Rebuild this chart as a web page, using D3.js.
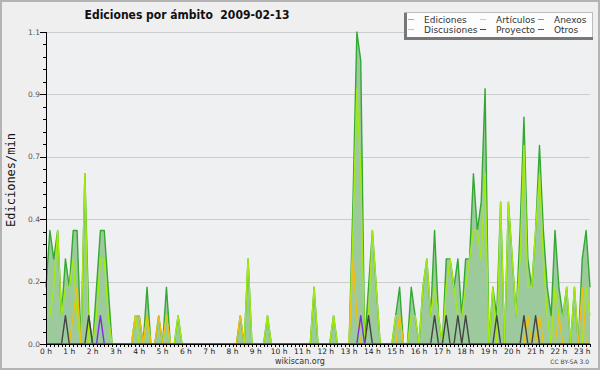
<!DOCTYPE html>
<html>
<head>
<meta charset="utf-8">
<script src="https://d3js.org/d3.v7.min.js"></script>
<style>
  body { margin: 0; background: #fff; }
  svg { display: block; }
  text { font-family: "DejaVu Sans", sans-serif; }
</style>
</head>
<body>
<svg id="chart" width="600" height="370"></svg>
<script>
// chart texts
var title = "Ediciones por ámbito  2009-02-13";
var yTitle = "Ediciones/min";
var footer = "wikiscan.org";
var licence = "CC BY-SA 3.0";

// one sample every 10 minutes, from 0 h
var binMinutes = 10;
var hourLabels = d3.range(0, 24).map(function(h){ return h + " h"; });
var yMax = 1.1;

// edits per minute (141 samples each)
var ediciones = [
  0.2,0.4,0.3,0.4,0.1,0.3,0.2,0.4,0.4,0,
  0.6,0.1,0,0.2,0.4,0.4,0.2,0,0,0,
  0,0,0,0.1,0.1,0,0.2,0,0,0.1,
  0,0.2,0,0,0.1,0,0,0,0,0,
  0,0,0,0,0,0,0,0,0,0,
  0.1,0,0.3,0,0,0,0,0.1,0,0,
  0,0,0,0,0,0,0,0,0,0.2,
  0,0,0,0,0.1,0,0,0,0,0.5,
  1.1,1.0,0,0.2,0.4,0.2,0,0,0,0,
  0.1,0.2,0,0,0.2,0.1,0,0.2,0.3,0.1,
  0.4,0.1,0,0.3,0.3,0.2,0.3,0.1,0.3,0.3,
  0.6,0.4,0.5,0.9,0,0.2,0.1,0.5,0,0.5,
  0.3,0.1,0.4,0.8,0.3,0.2,0.4,0.7,0.4,0.2,
  0.1,0.4,0.2,0.1,0.2,0,0.2,0,0.3,0.4,
  0.2
];
var articulos = [
  0.1,0.1,0.2,0.4,0.1,0.2,0.2,0.3,0.1,0,
  0.6,0,0,0.1,0.3,0.3,0.1,0,0,0,
  0,0,0,0.1,0,0,0.1,0,0,0,
  0,0.1,0,0,0.1,0,0,0,0,0,
  0,0,0,0,0,0,0,0,0,0,
  0,0,0.3,0,0,0,0,0.1,0,0,
  0,0,0,0,0,0,0,0,0,0.2,
  0,0,0,0,0.1,0,0,0,0,0.4,
  0.9,0.6,0,0.1,0.4,0.2,0,0,0,0,
  0.1,0.1,0,0,0.1,0.1,0,0.2,0.3,0.1,
  0.2,0.1,0,0.2,0.3,0.2,0.1,0.1,0.2,0.3,
  0.4,0.4,0.3,0.6,0,0.2,0,0.5,0,0.5,
  0.3,0.1,0.3,0.7,0.2,0.2,0.4,0.6,0.3,0.1,
  0,0.2,0.1,0.1,0.2,0,0.2,0,0,0.2,
  0.1
];
var anexos = d3.range(141).map(function(){ return 0; });
var discusiones = [
  0,0,0,0,0,0,0,0.1,0.2,0,
  0,0,0,0,0,0,0,0,0,0,
  0,0,0,0.1,0.1,0,0.1,0,0,0.1,
  0,0.1,0,0,0,0,0,0,0,0,
  0,0,0,0,0,0,0,0,0,0,
  0.1,0,0,0,0,0,0,0,0,0,
  0,0,0,0,0,0,0,0,0,0,
  0,0,0,0,0,0,0,0,0,0.3,
  0.1,0,0,0,0,0,0,0,0,0,
  0,0.1,0,0,0,0,0,0,0,0,
  0,0,0,0,0,0,0,0,0,0,
  0,0,0,0,0,0,0,0,0,0,
  0,0,0,0,0.1,0,0,0.1,0,0,
  0,0,0.1,0,0,0,0,0,0.2,0,
  0
];
var proyecto = [
  0,0,0,0,0,0.1,0,0,0,0,
  0,0.1,0,0,0,0,0,0,0,0,
  0,0,0,0,0,0,0,0,0,0,
  0,0,0,0,0,0,0,0,0,0,
  0,0,0,0,0,0,0,0,0,0,
  0,0,0,0,0,0,0,0,0,0,
  0,0,0,0,0,0,0,0,0,0,
  0,0,0,0,0,0,0,0,0,0,
  0,0,0,0.1,0,0,0,0,0,0,
  0,0,0,0,0,0,0,0,0,0,
  0.1,0,0,0.1,0,0,0.1,0,0.1,0,
  0,0,0,0,0,0,0.1,0,0,0,
  0,0,0,0.1,0,0,0.1,0,0,0,
  0,0,0,0,0,0,0,0,0,0,
  0
];
var otros = [
  0,0,0,0,0,0,0,0,0,0,
  0,0,0,0,0.1,0,0,0,0,0,
  0,0,0,0,0,0,0,0,0,0,
  0,0,0,0,0,0,0,0,0,0,
  0,0,0,0,0,0,0,0,0,0,
  0,0,0,0,0,0,0,0,0,0,
  0,0,0,0,0,0,0,0,0,0,
  0,0,0,0,0,0,0,0,0,0,
  0,0.1,0,0,0,0,0,0,0,0,
  0,0,0,0,0,0,0,0,0,0,
  0,0,0,0,0,0,0,0,0,0,
  0,0,0,0,0,0,0,0,0,0,
  0,0,0,0,0,0,0,0,0,0,
  0,0,0,0,0,0,0,0,0,0,
  0
];

var series = [
  {name: "Ediciones",   values: ediciones,   color: "#33a833", legend: "#7fc87f"},
  {name: "Artículos",   values: articulos,   color: "#a4ea12", legend: "#b8ee40"},
  {name: "Anexos",      values: anexos,      color: "#f07a40", legend: "#f07a40"},
  {name: "Discusiones", values: discusiones, color: "#f0c010", legend: "#f0c828"},
  {name: "Proyecto",    values: proyecto,    color: "#444444", legend: "#444444"},
  {name: "Otros",       values: otros,       color: "#7a30e0", legend: "#7a30e0"}
];

var svg = d3.select("#chart");
var W = 600, H = 370;
var plotL = 46, plotR = 590, plotT = 32, plotB = 344;

var lastHour = (ediciones.length - 1) * binMinutes / 60;
var x = d3.scaleLinear().domain([0, lastHour]).range([plotL, plotR]);
var y = d3.scaleLinear().domain([0, yMax]).range([plotB, plotT]);
var tHour = function(d, i){ return i * binMinutes / 60; };

// canvas + frame
svg.append("rect").attr("width", W).attr("height", H).attr("fill", "#efefef");
svg.append("rect").attr("x", 1).attr("y", 1).attr("width", W - 2).attr("height", H - 2)
  .attr("fill", "none").attr("stroke", "#b4b4b4").attr("stroke-width", 2);
svg.append("rect").attr("x", plotL).attr("y", plotT).attr("width", plotR - plotL).attr("height", plotB - plotT)
  .attr("fill", "#eef0f2");

// title
svg.append("text").attr("x", 187).attr("y", 18.5).attr("text-anchor", "middle")
  .style("font-family", "'DejaVu Sans Condensed', 'DejaVu Sans', sans-serif")
  .style("font-stretch", "condensed").style("white-space", "pre")
  .style("font-weight", "bold").style("font-size", "12px").attr("fill", "#111")
  .text(title);

// grid
var majors = d3.range(6).map(function(i){ return i * yMax / 5; });
var minors = d3.range(26).map(function(i){ return i * yMax / 25; });
svg.append("g").selectAll("line").data(majors.slice(1)).enter().append("line")
  .attr("x1", plotL).attr("x2", plotR)
  .attr("y1", function(d){ return Math.round(y(d)) + 0.5; })
  .attr("y2", function(d){ return Math.round(y(d)) + 0.5; })
  .attr("stroke", "#cccccc");

// data
var area = d3.area().x(function(d, i){ return x(tHour(d, i)); }).y0(y(0)).y1(function(d){ return y(d); });
var line = d3.line().x(function(d, i){ return x(tHour(d, i)); }).y(function(d){ return y(d); });

svg.append("path").datum(ediciones).attr("d", area).attr("fill", "#9cca9c");
series.forEach(function(s){
  svg.append("path").datum(s.values).attr("d", line)
    .attr("fill", "none").attr("stroke", s.color).attr("stroke-width", 1.4)
    .attr("stroke-linejoin", "round");
});

// y axis
var yAxis = svg.append("g");
yAxis.append("line").attr("x1", plotL + 0.5).attr("x2", plotL + 0.5).attr("y1", plotT).attr("y2", plotB + 3)
  .attr("stroke", "#000");
yAxis.selectAll(".mi").data(minors).enter().append("line")
  .attr("x1", plotL - 3).attr("x2", plotL)
  .attr("y1", function(d){ return Math.round(y(d)) + 0.5; })
  .attr("y2", function(d){ return Math.round(y(d)) + 0.5; })
  .attr("stroke", "#000");
yAxis.selectAll(".ma").data(majors).enter().append("line")
  .attr("x1", plotL - 6).attr("x2", plotL)
  .attr("y1", function(d){ return Math.round(y(d)) + 0.5; })
  .attr("y2", function(d){ return Math.round(y(d)) + 0.5; })
  .attr("stroke", "#000");
yAxis.selectAll("text").data(majors).enter().append("text")
  .attr("x", plotL - 6).attr("y", function(d){ return y(d) + 2.5; })
  .attr("text-anchor", "end").style("font-size", "7.5px").attr("fill", "#555")
  .text(d3.format(".1f"));

svg.append("text").attr("transform", "translate(15,180) rotate(-90)")
  .attr("text-anchor", "middle")
  .style("font-family", "'DejaVu Sans Mono', monospace").style("font-size", "12px").attr("fill", "#111")
  .text(yTitle);

// x axis
var xAxis = svg.append("g");
xAxis.append("line").attr("x1", plotL).attr("x2", plotR).attr("y1", plotB + 0.5).attr("y2", plotB + 0.5)
  .attr("stroke", "#000");
xAxis.selectAll(".tk").data(ediciones).enter().append("line")
  .attr("x1", function(d, i){ return Math.round(x(tHour(d, i))) + 0.5; })
  .attr("x2", function(d, i){ return Math.round(x(tHour(d, i))) + 0.5; })
  .attr("y1", plotB).attr("y2", plotB + 3)
  .attr("stroke", "#000");
xAxis.selectAll("text").data(hourLabels).enter().append("text")
  .attr("x", function(d, i){ return x(i); }).attr("y", plotB + 9.5)
  .attr("text-anchor", "middle").style("font-size", "7.5px").attr("fill", "#222")
  .text(function(d){ return d; });

svg.append("text").attr("x", 300).attr("y", 364).attr("text-anchor", "middle")
  .style("font-size", "8px").attr("fill", "#333").text(footer);
svg.append("text").attr("x", 589).attr("y", 364).attr("text-anchor", "end")
  .style("font-size", "6px").attr("fill", "#444").text(licence);

// legend
var lg = svg.append("g");
lg.append("rect").attr("x", 404.5).attr("y", 12.5).attr("width", 188).attr("height", 27)
  .attr("fill", "#fdfdfd").attr("stroke", "#bbbbbb");
lg.append("rect").attr("x", 404).attr("y", 13).attr("width", 3).attr("height", 27).attr("fill", "#777");
lg.append("rect").attr("x", 404).attr("y", 37).attr("width", 189).attr("height", 3).attr("fill", "#777");
var colX = [408, 480, 538];
var rowY = [19.5, 29.5];
var entries = lg.selectAll("g").data(series).enter().append("g")
  .attr("transform", function(d, i){ return "translate(" + colX[i % 3] + "," + rowY[Math.floor(i / 3)] + ")"; });
entries.append("line").attr("x1", 0).attr("x2", 6).attr("stroke", function(d){ return d.legend; });
entries.append("text").attr("x", 16).attr("y", 3.2).style("font-size", "9px").attr("fill", "#333")
  .text(function(d){ return d.name; });
</script>
</body>
</html>
